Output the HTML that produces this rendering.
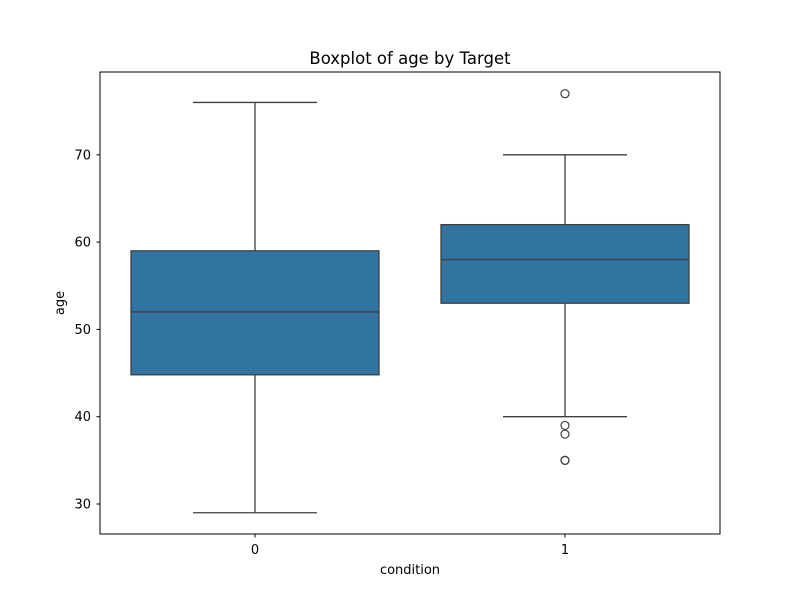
<!DOCTYPE html>
<html><head><meta charset="utf-8"><style>
body{margin:0;background:#fff;}
svg text{font-family:"DejaVu Sans","Liberation Sans",sans-serif;}
</style></head><body>
<svg id="chart" width="800" height="600" xmlns="http://www.w3.org/2000/svg">
<rect width="800" height="600" fill="#fff"/>
<text x="410" y="64" font-size="16.5" text-anchor="middle">Boxplot of age by Target</text>
<g id="plot"></g>
<rect x="100" y="72" width="620" height="462" fill="none" stroke="#000" stroke-width="1"/>
<text x="410" y="574" font-size="13" text-anchor="middle">condition</text>
<text x="64" y="303" font-size="13" text-anchor="middle" transform="rotate(-90 64 303)">age</text>
</svg>
<script>
const categories = ["0","1"];
const q1 = [44.8, 53];
const medians = [52, 58];
const q3 = [59, 62];
const whiskerLow = [29, 40];
const whiskerHigh = [76, 70];
const outliers = [[], [77, 39, 38, 35, 35]];
const yTicks = [30, 40, 50, 60, 70];

const NS = "http://www.w3.org/2000/svg";
const g = document.getElementById("plot");
function y(v){ return 504 - (v - 30) * 8.73; }
function x(i){ return 255 + i * 310; }
const boxW = 248;
function el(tag, attrs){ const e = document.createElementNS(NS, tag); for (const k in attrs) e.setAttribute(k, attrs[k]); g.appendChild(e); return e; }

yTicks.forEach(t => {
  const tk = el("line", {x1:96.5, x2:100, y1:y(t), y2:y(t), stroke:"#000"});
  
  
  const tx = el("text", {x:91, y:y(t)+4.5, "font-size":13, "text-anchor":"end"});
  tx.textContent = t;
  
  
});
categories.forEach((c, i) => {
  const cx = x(i);
  const tk = el("line", {x1:cx, x2:cx, y1:534, y2:537.5, stroke:"#000"});
  
  
  const tx = el("text", {x:cx, y:554, "font-size":13, "text-anchor":"middle"});
  tx.textContent = c;
  
  
  const s = "#3f3f3f";
  const w1 = el("line", {x1:cx, x2:cx, y1:y(q1[i]), y2:y(whiskerLow[i]), stroke:s, "stroke-width":1.3});
  
  
  const w2 = el("line", {x1:cx, x2:cx, y1:y(q3[i]), y2:y(whiskerHigh[i]), stroke:s, "stroke-width":1.3});
  
  
  const c1 = el("line", {x1:cx-boxW/4, x2:cx+boxW/4, y1:y(whiskerLow[i]), y2:y(whiskerLow[i]), stroke:s, "stroke-width":1.3});
  
  
  const c2 = el("line", {x1:cx-boxW/4, x2:cx+boxW/4, y1:y(whiskerHigh[i]), y2:y(whiskerHigh[i]), stroke:s, "stroke-width":1.3});
  
  
  const b = el("rect", {x:cx-boxW/2, y:y(q3[i]), width:boxW, height:y(q1[i])-y(q3[i]), fill:"#3274a1", stroke:s, "stroke-width":1.3});
  
  
  const m = el("line", {x1:cx-boxW/2, x2:cx+boxW/2, y1:y(medians[i]), y2:y(medians[i]), stroke:s, "stroke-width":1.3});
  
  
  outliers[i].forEach(o => {
    const p = el("circle", {cx:cx, cy:y(o), r:4, fill:"none", stroke:s, "stroke-width":1.2});
    
    
  });
});
</script>
</body></html>
